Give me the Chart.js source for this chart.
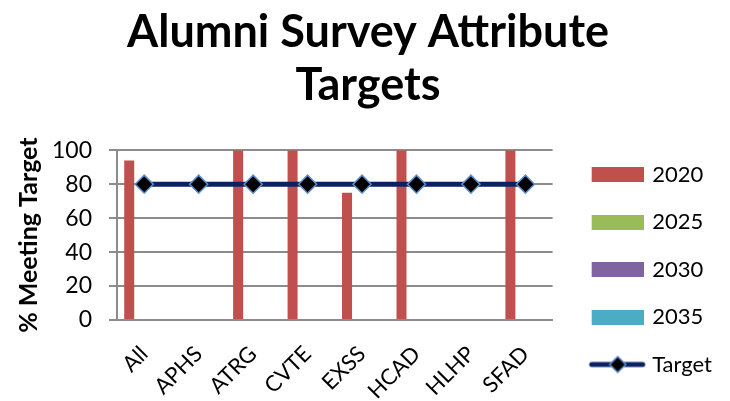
<!DOCTYPE html>
<html>
<head>
<meta charset="utf-8">
<script src="https://cdn.jsdelivr.net/npm/chart.js@4/dist/chart.umd.min.js"></script>
<style>
  html, body { margin: 0; padding: 0; background: #fff; }
  #wrap { width: 730px; height: 401px; }
</style>
</head>
<body>
<div id="wrap"><canvas id="myChart" width="730" height="401"></canvas></div>
<script>
var programs = ["All", "APHS", "ATRG", "CVTE", "EXSS", "HCAD", "HLHP", "SFAD"];
var values2020 = [94, null, 100, 100, 75, 100, null, 100];
var values2025 = [null, null, null, null, null, null, null, null];
var values2030 = [null, null, null, null, null, null, null, null];
var values2035 = [null, null, null, null, null, null, null, null];
var targetValues = [80, 80, 80, 80, 80, 80, 80, 80];
var yTicks = [0, 20, 40, 60, 80, 100];

var barColors = ["#c0504d", "#9bbb59", "#8064a2", "#4bacc6"];
var navy = "#0b2262";

// little pictures for the legend (box for bars, line + diamond for target)
// left 16px left empty so there is a gap between plot and legend
function boxPic(color) {
    var c = document.createElement("canvas");
    c.width = 68; c.height = 15;
    var g = c.getContext("2d");
    g.fillStyle = color;
    g.fillRect(16, 0, 52, 15);
    return c;
}
function targetPic() {
    var c = document.createElement("canvas");
    c.width = 74; c.height = 22;
    var g = c.getContext("2d");
    g.strokeStyle = navy;
    g.lineWidth = 5;
    g.lineCap = "round";
    g.beginPath(); g.moveTo(19, 11); g.lineTo(70, 11); g.stroke();
    g.beginPath();
    g.moveTo(45, 3); g.lineTo(53, 11); g.lineTo(45, 19); g.lineTo(37, 11); g.closePath();
    g.fillStyle = "#000"; g.fill();
    g.strokeStyle = "#5b8fd0"; g.lineWidth = 1.5; g.stroke();
    return c;
}
var legendPics = [boxPic(barColors[0]), boxPic(barColors[1]), boxPic(barColors[2]), boxPic(barColors[3]), targetPic()];

new Chart("myChart", {
    type: "bar",
    data: {
        labels: programs,
        datasets: [
            { label: "2020", data: values2020, backgroundColor: barColors[0], order: 2 },
            { label: "2025", data: values2025, backgroundColor: barColors[1], order: 2 },
            { label: "2030", data: values2030, backgroundColor: barColors[2], order: 2 },
            { label: "2035", data: values2035, backgroundColor: barColors[3], order: 2 },
            {
                label: "Target",
                type: "line",
                data: targetValues,
                borderColor: navy,
                borderWidth: 5,
                pointStyle: "rectRot",
                pointRadius: 9,
                pointBackgroundColor: "#000",
                pointBorderColor: "#5b8fd0",
                pointBorderWidth: 1.5,
                order: 1
            }
        ]
    },
    options: {
        responsive: false,
        animation: false,
        datasets: {
            bar: { categoryPercentage: 0.735, barPercentage: 1 }
        },
        layout: { padding: { left: 14, right: 8, top: 4, bottom: 0 } },
        plugins: {
            title: {
                display: true,
                text: ["Alumni Survey Attribute", "Targets"],
                color: "#000",
                font: { family: "Lato", size: 45, weight: "bold", lineHeight: 1.18 },
                padding: { top: 2, bottom: 38 }
            },
            legend: {
                position: "right",
                align: "end",
                labels: {
                    usePointStyle: true,
                    pointStyleWidth: 63,
                    boxHeight: 15,
                    padding: 25.5,
                    color: "#000",
                    font: { family: "Lato", size: 22 },
                    sort: function(a, b) { return a.datasetIndex - b.datasetIndex; },
                    generateLabels: function(chart) {
                        var items = Chart.defaults.plugins.legend.labels.generateLabels(chart);
                        items.forEach(function(it) { it.pointStyle = legendPics[it.datasetIndex]; });
                        return items;
                    }
                }
            },
            tooltip: { enabled: false }
        },
        scales: {
            x: {
                grid: { display: false, drawTicks: false },
                border: { display: true, color: "#8c8c8c", width: 2 },
                ticks: {
                    color: "#000",
                    font: { family: "Lato", size: 22 },
                    minRotation: 45,
                    maxRotation: 45,
                    padding: 21
                },
                afterFit: function(axis) {
                    axis.height = 81;
                    axis.paddingLeft = 0;
                    axis.paddingRight = 0;
                }
            },
            y: {
                min: 0,
                max: 100,
                afterBuildTicks: function(axis) {
                    axis.ticks = yTicks.map(function(v) { return { value: v }; });
                },
                grid: { color: "#8c8c8c", lineWidth: 2, tickLength: 8 },
                border: { display: true, color: "#8c8c8c", width: 2 },
                ticks: {
                    color: "#000",
                    font: { family: "Lato", size: 23 },
                    padding: 17,
                    autoSkip: false
                },
                title: {
                    display: true,
                    text: "% Meeting Target",
                    color: "#000",
                    font: { family: "Lato", size: 25, weight: "bold" },
                    padding: { top: 0, bottom: 6 }
                },
                afterFit: function(axis) { axis.width = 103; }
            }
        }
    }
});
</script>
</body>
</html>
